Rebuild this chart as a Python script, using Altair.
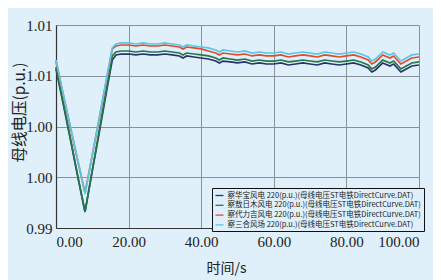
import altair as alt
import pandas as pd

times = [0, 2, 4, 6, 8, 10, 12, 14, 15.5, 16.5, 18, 20, 22, 24, 26, 28, 30, 32, 34, 35,
         36, 38, 40, 42, 44, 45, 46, 48, 50, 52, 54, 56, 58, 60, 62, 64, 66, 68, 70, 72,
         74, 76, 78, 80, 82, 84, 86, 87, 88, 90, 92, 93, 95, 96, 98, 100]

cyan = [1.00655, 1.00320, 0.99995, 0.99670, 0.99335, 0.99720, 1.00104, 1.00488, 1.00774, 1.00813,
        1.00823, 1.00823, 1.00813, 1.00823, 1.00813, 1.00813, 1.00823, 1.00813, 1.00803, 1.00783,
        1.00803, 1.00793, 1.00783, 1.00774, 1.00754, 1.00734, 1.00754, 1.00744, 1.00734, 1.00744,
        1.00724, 1.00734, 1.00724, 1.00724, 1.00734, 1.00714, 1.00724, 1.00734, 1.00724, 1.00714,
        1.00734, 1.00724, 1.00714, 1.00724, 1.00734, 1.00714, 1.00685, 1.00645, 1.00665, 1.00734,
        1.00705, 1.00724, 1.00645, 1.00665, 1.00705, 1.00714]

red = [1.00645, 1.00310, 0.99986, 0.99660, 0.99345, 0.99720, 1.00094, 1.00478, 1.00764, 1.00793,
       1.00803, 1.00803, 1.00793, 1.00803, 1.00793, 1.00793, 1.00803, 1.00793, 1.00783, 1.00764,
       1.00783, 1.00774, 1.00764, 1.00744, 1.00724, 1.00705, 1.00724, 1.00714, 1.00705, 1.00714,
       1.00695, 1.00705, 1.00695, 1.00695, 1.00705, 1.00685, 1.00695, 1.00705, 1.00695, 1.00685,
       1.00705, 1.00695, 1.00685, 1.00695, 1.00705, 1.00685, 1.00655, 1.00616, 1.00636, 1.00705,
       1.00675, 1.00695, 1.00616, 1.00636, 1.00675, 1.00685]

green = [1.00586, 1.00232, 0.99877, 0.99513, 0.99158, 0.99572, 0.99976, 1.00389, 1.00695, 1.00734,
         1.00744, 1.00744, 1.00734, 1.00744, 1.00734, 1.00734, 1.00744, 1.00734, 1.00724, 1.00705,
         1.00724, 1.00714, 1.00705, 1.00695, 1.00675, 1.00655, 1.00675, 1.00665, 1.00655, 1.00665,
         1.00645, 1.00655, 1.00645, 1.00645, 1.00655, 1.00636, 1.00645, 1.00655, 1.00645, 1.00636,
         1.00655, 1.00645, 1.00636, 1.00645, 1.00655, 1.00636, 1.00606, 1.00567, 1.00586, 1.00655,
         1.00626, 1.00645, 1.00567, 1.00586, 1.00626, 1.00636]

navy = [1.00567, 1.00222, 0.99867, 0.99503, 0.99158, 0.99562, 0.99956, 1.00360, 1.00655, 1.00705,
        1.00714, 1.00714, 1.00705, 1.00714, 1.00705, 1.00705, 1.00714, 1.00705, 1.00695, 1.00675,
        1.00695, 1.00685, 1.00675, 1.00665, 1.00645, 1.00626, 1.00645, 1.00636, 1.00626, 1.00636,
        1.00616, 1.00626, 1.00616, 1.00616, 1.00626, 1.00606, 1.00616, 1.00626, 1.00616, 1.00606,
        1.00626, 1.00616, 1.00606, 1.00616, 1.00626, 1.00606, 1.00576, 1.00537, 1.00557, 1.00626,
        1.00596, 1.00616, 1.00537, 1.00557, 1.00596, 1.00606]

names = [
    "察华宝风电 220(p.u.)(母线电压ST电铁DirectCurve.DAT)",
    "察敖日木风电 220(p.u.)(母线电压ST电铁DirectCurve.DAT)",
    "察代力吉风电 220(p.u.)(母线电压ST电铁DirectCurve.DAT)",
    "察三合风场 220(p.u.)(母线电压ST电铁DirectCurve.DAT)",
]
colors = ["#27336a", "#23784a", "#e04a2e", "#5cc6e4"]
series = [navy, green, red, cyan]

rows = []
for k, (nm, vals) in enumerate(zip(names, series)):
    for t, v in zip(times, vals):
        rows.append({"t": t, "v": v, "s": nm, "o": k})
df = pd.DataFrame(rows)

x_ticks = [0, 20, 40, 60, 80, 100]
y_ticks = [0.99, 0.995, 1.0, 1.005, 1.01]

bg = "#dff0fa"

chart = alt.Chart(df).mark_line(strokeWidth=1.7).encode(
    x=alt.X("t:Q", scale=alt.Scale(domain=[0, 100], nice=False),
            axis=alt.Axis(values=x_ticks, format=".2f", title="时间/s",
                          titleX=170, titleY=40, titleBaseline="middle",
                          titleFontSize=14, titleFont="Noto Sans CJK SC",
                          titleFontWeight="normal", titleColor="#222",
                          labelFont="Liberation Serif", labelFontSize=15,
                          labelColor="#222", labelPadding=6, ticks=False,
                          domainColor="#333", domainWidth=1.2,
                          gridColor="#8a9299", gridWidth=1)),
    y=alt.Y("v:Q", scale=alt.Scale(domain=[0.99, 1.01], nice=False, zero=False),
            axis=alt.Axis(values=y_ticks, labelExpr="format(datum.value + 0.0000001, '.2f')",
                          title="母线电压(p.u.)", titleX=-37, titleY=87, titleAngle=270,
                          titleAlign="center", titleBaseline="middle",
                          titleFontSize=15.5, titleFont="Noto Sans CJK SC",
                          titleFontWeight="normal", titleColor="#222",
                          labelFont="Liberation Serif", labelFontSize=15,
                          labelColor="#222", labelPadding=4, ticks=False,
                          domainColor="#333", domainWidth=1.2,
                          gridColor="#8a9299", gridWidth=1)),
    color=alt.Color("s:N", scale=alt.Scale(domain=names, range=colors),
                    sort=names,
                    legend=alt.Legend(title=None, orient="none", legendX=156, legendY=163,
                                      symbolType="stroke", symbolSize=64,
                                      symbolStrokeWidth=1.3, labelFont="Noto Sans CJK SC",
                                      labelFontSize=7.5, labelLimit=400, labelColor="#222",
                                      rowPadding=0.8, labelOffset=3, padding=2.5,
                                      strokeColor="#111", fillColor=bg)),
    order=alt.Order("o:Q"),
    detail="s:N",
).properties(
    width=363, height=203,
    autosize="none",
    padding={"left": 48, "top": 17, "right": 14, "bottom": 52},
    background=bg,
).configure_view(fill=bg, stroke=None)

chart.save("out.html", embed_options={"renderer": "svg", "actions": False})
